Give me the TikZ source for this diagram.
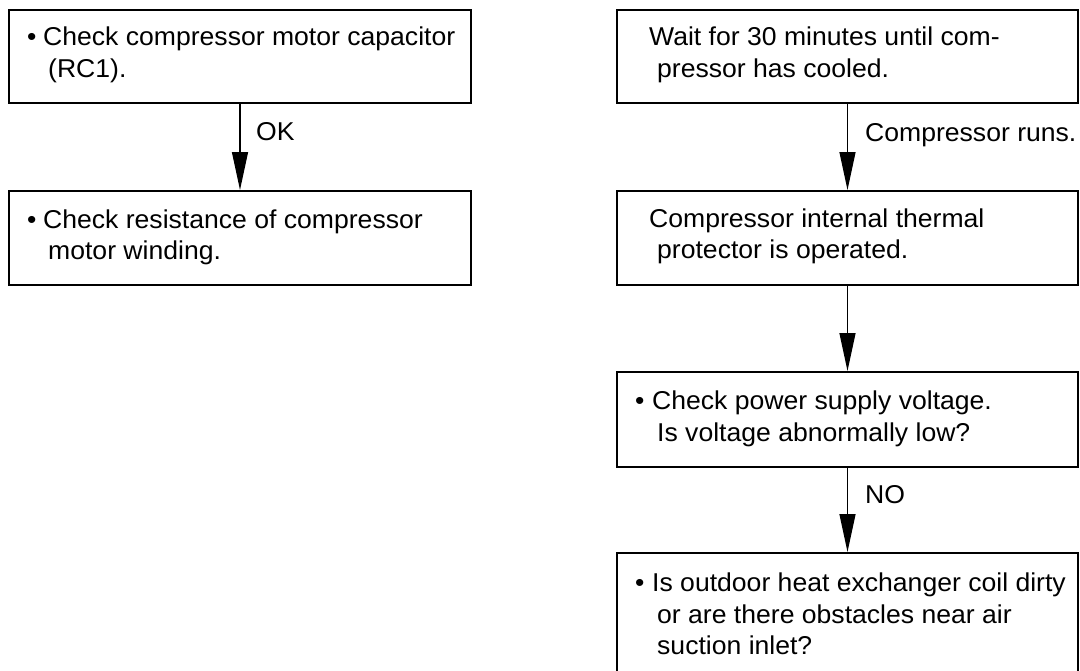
\documentclass[tikz,border=0pt]{standalone}
\usepackage{fontspec}
\setmainfont{Liberation Sans}[FakeStretch=1.03]
\usetikzlibrary{arrows.meta}
\tikzset{
  box/.style={draw=black, line width=2pt, rectangle, inner sep=0pt},
  txt/.style={anchor=base west, inner sep=0pt, font=\fontsize{25.8}{33}\selectfont},
  arr/.style={draw=black, line width=1.3pt, -{Triangle[length=38pt,width=16pt]}},
}
\begin{document}
\begin{tikzpicture}[x=1pt,y=-1pt]
\useasboundingbox (0,0) rectangle (1080,670);
\clip (0,0) rectangle (1080,670);
% left column
\node[box, minimum width=462pt, minimum height=93pt] (b1) at (240,56.5) {};
\node[box, minimum width=462pt, minimum height=94pt] (b2) at (240,238) {};
% right column
\node[box, minimum width=461pt, minimum height=93pt] (b3) at (847.5,56.5) {};
\node[box, minimum width=461pt, minimum height=94pt] (b4) at (847.5,238) {};
\node[box, minimum width=461pt, minimum height=95pt] (b5) at (847.5,419.5) {};
\node[box, minimum width=461pt, minimum height=140pt] (b6) at (847.5,623) {};
% texts
\node[txt] (t1a) at (27,45) {\textbullet};
\node[txt] (t1b) at (43,45) {Check compressor motor capacitor};
\node[txt] (t1c) at (48,77) {(RC1).};
\node[txt] (t2a) at (27,228) {\textbullet};
\node[txt] (t2b) at (43,228) {Check resistance of compressor};
\node[txt] (t2c) at (48,259) {motor winding.};
\node[txt] (t3a) at (649,45) {Wait for 30 minutes until com-};
\node[txt] (t3b) at (657,77) {pressor has cooled.};
\node[txt] (t4a) at (649,227) {Compressor internal thermal};
\node[txt] (t4b) at (657,258) {protector is operated.};
\node[txt] (t5a) at (635,409) {\textbullet};
\node[txt] (t5b) at (652,409) {Check power supply voltage.};
\node[txt] (t5c) at (657,441) {Is voltage abnormally low?};
\node[txt] (t6a) at (635,591) {\textbullet};
\node[txt] (t6b) at (652,591) {Is outdoor heat exchanger coil dirty};
\node[txt] (t6c) at (657,623) {or are there obstacles near air};
\node[txt] (t6d) at (657,654) {suction inlet?};
% connectors
\draw[arr] (b1.south) -- (b2.north);
\draw[arr] (b3.south) -- (b4.north);
\draw[arr] (b4.south) -- (b5.north);
\draw[arr] (b5.south) -- (b6.north);
% labels
\node[txt] (lok) at (256,140) {OK};
\node[txt] (lrun) at (865,141) {Compressor runs.};
\node[txt] (lno) at (865,503) {NO};
\end{tikzpicture}
\end{document}
